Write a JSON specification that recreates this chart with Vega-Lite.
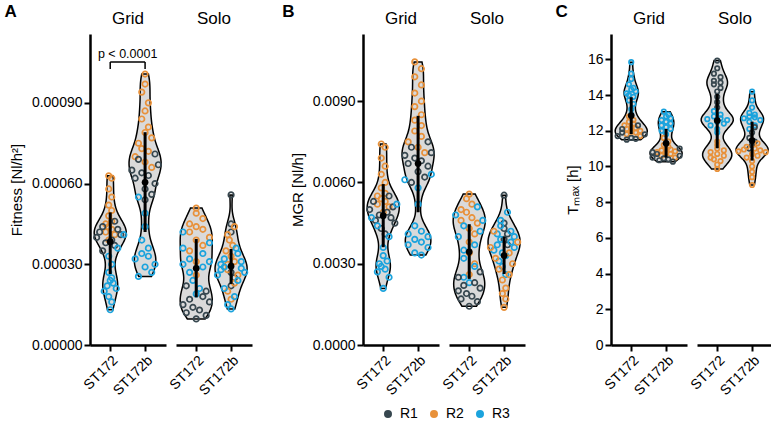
{
"$schema":"https://vega.github.io/schema/vega-lite/v6.json",
"padding":{"left":4,"top":3,"right":0,"bottom":0},
"datasets":{
"fit":[
{"g":"Grid","s":"ST172","r":"R2","v":0.000629},{"g":"Grid","s":"ST172","r":"R2","v":0.00062},{"g":"Grid","s":"ST172","r":"R2","v":0.00058},{"g":"Grid","s":"ST172","r":"R2","v":0.00055},{"g":"Grid","s":"ST172","r":"R2","v":0.00052},{"g":"Grid","s":"ST172","r":"R2","v":0.0005},{"g":"Grid","s":"ST172","r":"R2","v":0.00048},{"g":"Grid","s":"ST172","r":"R2","v":0.00046},{"g":"Grid","s":"ST172","r":"R2","v":0.00045},{"g":"Grid","s":"ST172","r":"R2","v":0.00044},{"g":"Grid","s":"ST172","r":"R2","v":0.00043},{"g":"Grid","s":"ST172","r":"R2","v":0.00042},{"g":"Grid","s":"ST172","r":"R2","v":0.00041},{"g":"Grid","s":"ST172","r":"R2","v":0.00039},
{"g":"Grid","s":"ST172","r":"R1","v":0.00046},{"g":"Grid","s":"ST172","r":"R1","v":0.00044},{"g":"Grid","s":"ST172","r":"R1","v":0.00043},{"g":"Grid","s":"ST172","r":"R1","v":0.00042},{"g":"Grid","s":"ST172","r":"R1","v":0.00041},{"g":"Grid","s":"ST172","r":"R1","v":0.0004},{"g":"Grid","s":"ST172","r":"R1","v":0.00039},{"g":"Grid","s":"ST172","r":"R1","v":0.00038},{"g":"Grid","s":"ST172","r":"R1","v":0.00037},{"g":"Grid","s":"ST172","r":"R1","v":0.00035},
{"g":"Grid","s":"ST172","r":"R3","v":0.00041},{"g":"Grid","s":"ST172","r":"R3","v":0.00036},{"g":"Grid","s":"ST172","r":"R3","v":0.00033},{"g":"Grid","s":"ST172","r":"R3","v":0.0003},{"g":"Grid","s":"ST172","r":"R3","v":0.00027},{"g":"Grid","s":"ST172","r":"R3","v":0.00025},{"g":"Grid","s":"ST172","r":"R3","v":0.00024},{"g":"Grid","s":"ST172","r":"R3","v":0.00023},{"g":"Grid","s":"ST172","r":"R3","v":0.00022},{"g":"Grid","s":"ST172","r":"R3","v":0.00021},{"g":"Grid","s":"ST172","r":"R3","v":0.0002},{"g":"Grid","s":"ST172","r":"R3","v":0.00018},{"g":"Grid","s":"ST172","r":"R3","v":0.00016},{"g":"Grid","s":"ST172","r":"R3","v":0.000131},
{"g":"Grid","s":"ST172b","r":"R2","v":0.001007},{"g":"Grid","s":"ST172b","r":"R2","v":0.00097},{"g":"Grid","s":"ST172b","r":"R2","v":0.00094},{"g":"Grid","s":"ST172b","r":"R2","v":0.0009},{"g":"Grid","s":"ST172b","r":"R2","v":0.00087},{"g":"Grid","s":"ST172b","r":"R2","v":0.00084},{"g":"Grid","s":"ST172b","r":"R2","v":0.00081},{"g":"Grid","s":"ST172b","r":"R2","v":0.00079},{"g":"Grid","s":"ST172b","r":"R2","v":0.00077},{"g":"Grid","s":"ST172b","r":"R2","v":0.00075},{"g":"Grid","s":"ST172b","r":"R2","v":0.00073},{"g":"Grid","s":"ST172b","r":"R2","v":0.00072},{"g":"Grid","s":"ST172b","r":"R2","v":0.0007},{"g":"Grid","s":"ST172b","r":"R2","v":0.00068},{"g":"Grid","s":"ST172b","r":"R2","v":0.00066},
{"g":"Grid","s":"ST172b","r":"R1","v":0.00071},{"g":"Grid","s":"ST172b","r":"R1","v":0.00069},{"g":"Grid","s":"ST172b","r":"R1","v":0.00067},{"g":"Grid","s":"ST172b","r":"R1","v":0.00065},{"g":"Grid","s":"ST172b","r":"R1","v":0.00064},{"g":"Grid","s":"ST172b","r":"R1","v":0.00063},{"g":"Grid","s":"ST172b","r":"R1","v":0.00062},{"g":"Grid","s":"ST172b","r":"R1","v":0.0006},{"g":"Grid","s":"ST172b","r":"R1","v":0.00058},{"g":"Grid","s":"ST172b","r":"R1","v":0.00056},{"g":"Grid","s":"ST172b","r":"R1","v":0.00054},
{"g":"Grid","s":"ST172b","r":"R3","v":0.00055},{"g":"Grid","s":"ST172b","r":"R3","v":0.00049},{"g":"Grid","s":"ST172b","r":"R3","v":0.00044},{"g":"Grid","s":"ST172b","r":"R3","v":0.00039},{"g":"Grid","s":"ST172b","r":"R3","v":0.00036},{"g":"Grid","s":"ST172b","r":"R3","v":0.00034},{"g":"Grid","s":"ST172b","r":"R3","v":0.00033},{"g":"Grid","s":"ST172b","r":"R3","v":0.00032},{"g":"Grid","s":"ST172b","r":"R3","v":0.0003},{"g":"Grid","s":"ST172b","r":"R3","v":0.00029},{"g":"Grid","s":"ST172b","r":"R3","v":0.00027},{"g":"Grid","s":"ST172b","r":"R3","v":0.000255},
{"g":"Solo","s":"ST172","r":"R2","v":0.000509},{"g":"Solo","s":"ST172","r":"R2","v":0.00049},{"g":"Solo","s":"ST172","r":"R2","v":0.00047},{"g":"Solo","s":"ST172","r":"R2","v":0.00045},{"g":"Solo","s":"ST172","r":"R2","v":0.00044},{"g":"Solo","s":"ST172","r":"R2","v":0.00043},{"g":"Solo","s":"ST172","r":"R2","v":0.00042},{"g":"Solo","s":"ST172","r":"R2","v":0.0004},{"g":"Solo","s":"ST172","r":"R2","v":0.00039},{"g":"Solo","s":"ST172","r":"R2","v":0.00037},{"g":"Solo","s":"ST172","r":"R2","v":0.00035},{"g":"Solo","s":"ST172","r":"R2","v":0.00031},{"g":"Solo","s":"ST172","r":"R2","v":0.00026},
{"g":"Solo","s":"ST172","r":"R3","v":0.00042},{"g":"Solo","s":"ST172","r":"R3","v":0.00038},{"g":"Solo","s":"ST172","r":"R3","v":0.00036},{"g":"Solo","s":"ST172","r":"R3","v":0.00034},{"g":"Solo","s":"ST172","r":"R3","v":0.00032},{"g":"Solo","s":"ST172","r":"R3","v":0.00031},{"g":"Solo","s":"ST172","r":"R3","v":0.0003},{"g":"Solo","s":"ST172","r":"R3","v":0.00029},{"g":"Solo","s":"ST172","r":"R3","v":0.00027},{"g":"Solo","s":"ST172","r":"R3","v":0.00024},{"g":"Solo","s":"ST172","r":"R3","v":0.00021},{"g":"Solo","s":"ST172","r":"R3","v":0.00019},
{"g":"Solo","s":"ST172","r":"R1","v":0.00022},{"g":"Solo","s":"ST172","r":"R1","v":0.0002},{"g":"Solo","s":"ST172","r":"R1","v":0.00018},{"g":"Solo","s":"ST172","r":"R1","v":0.00017},{"g":"Solo","s":"ST172","r":"R1","v":0.00016},{"g":"Solo","s":"ST172","r":"R1","v":0.00015},{"g":"Solo","s":"ST172","r":"R1","v":0.00014},{"g":"Solo","s":"ST172","r":"R1","v":0.00013},{"g":"Solo","s":"ST172","r":"R1","v":0.00012},{"g":"Solo","s":"ST172","r":"R1","v":0.00011},{"g":"Solo","s":"ST172","r":"R1","v":0.000097},
{"g":"Solo","s":"ST172b","r":"R1","v":0.000558},{"g":"Solo","s":"ST172b","r":"R1","v":0.00045},{"g":"Solo","s":"ST172b","r":"R1","v":0.00042},{"g":"Solo","s":"ST172b","r":"R1","v":0.00027},{"g":"Solo","s":"ST172b","r":"R1","v":0.00025},{"g":"Solo","s":"ST172b","r":"R1","v":0.00022},
{"g":"Solo","s":"ST172b","r":"R2","v":0.00044},{"g":"Solo","s":"ST172b","r":"R2","v":0.00041},{"g":"Solo","s":"ST172b","r":"R2","v":0.00039},{"g":"Solo","s":"ST172b","r":"R2","v":0.00037},{"g":"Solo","s":"ST172b","r":"R2","v":0.00035},{"g":"Solo","s":"ST172b","r":"R2","v":0.00033},{"g":"Solo","s":"ST172b","r":"R2","v":0.00031},{"g":"Solo","s":"ST172b","r":"R2","v":0.0003},{"g":"Solo","s":"ST172b","r":"R2","v":0.00028},{"g":"Solo","s":"ST172b","r":"R2","v":0.00026},{"g":"Solo","s":"ST172b","r":"R2","v":0.00023},{"g":"Solo","s":"ST172b","r":"R2","v":0.0002},{"g":"Solo","s":"ST172b","r":"R2","v":0.00017},
{"g":"Solo","s":"ST172b","r":"R3","v":0.00036},{"g":"Solo","s":"ST172b","r":"R3","v":0.00034},{"g":"Solo","s":"ST172b","r":"R3","v":0.00032},{"g":"Solo","s":"ST172b","r":"R3","v":0.00031},{"g":"Solo","s":"ST172b","r":"R3","v":0.0003},{"g":"Solo","s":"ST172b","r":"R3","v":0.00029},{"g":"Solo","s":"ST172b","r":"R3","v":0.000285},{"g":"Solo","s":"ST172b","r":"R3","v":0.00028},{"g":"Solo","s":"ST172b","r":"R3","v":0.00027},{"g":"Solo","s":"ST172b","r":"R3","v":0.00026},{"g":"Solo","s":"ST172b","r":"R3","v":0.00024},{"g":"Solo","s":"ST172b","r":"R3","v":0.00021},{"g":"Solo","s":"ST172b","r":"R3","v":0.00018},{"g":"Solo","s":"ST172b","r":"R3","v":0.00015},{"g":"Solo","s":"ST172b","r":"R3","v":0.000134},
{"g":"Grid","s":"ST172","v":0.000384,"lo":0.000264,"hi":0.000493},{"g":"Grid","s":"ST172b","v":0.000605,"lo":0.00042,"hi":0.000791},{"g":"Solo","s":"ST172","v":0.000285,"lo":0.000177,"hi":0.000394},{"g":"Solo","s":"ST172b","v":0.000293,"lo":0.000227,"hi":0.000357},
{"g":"Grid","s":"ST172","note":"p < 0.0001"}
],
"mgr":[
{"g":"Grid","s":"ST172","r":"R2","v":0.00742},{"g":"Grid","s":"ST172","r":"R2","v":0.0073},{"g":"Grid","s":"ST172","r":"R2","v":0.0069},{"g":"Grid","s":"ST172","r":"R2","v":0.0066},{"g":"Grid","s":"ST172","r":"R2","v":0.0063},{"g":"Grid","s":"ST172","r":"R2","v":0.006},{"g":"Grid","s":"ST172","r":"R2","v":0.0058},{"g":"Grid","s":"ST172","r":"R2","v":0.0056},{"g":"Grid","s":"ST172","r":"R2","v":0.0055},{"g":"Grid","s":"ST172","r":"R2","v":0.0054},{"g":"Grid","s":"ST172","r":"R2","v":0.0053},{"g":"Grid","s":"ST172","r":"R2","v":0.0052},{"g":"Grid","s":"ST172","r":"R2","v":0.0051},{"g":"Grid","s":"ST172","r":"R2","v":0.0049},
{"g":"Grid","s":"ST172","r":"R1","v":0.0055},{"g":"Grid","s":"ST172","r":"R1","v":0.0053},{"g":"Grid","s":"ST172","r":"R1","v":0.0051},{"g":"Grid","s":"ST172","r":"R1","v":0.005},{"g":"Grid","s":"ST172","r":"R1","v":0.0049},{"g":"Grid","s":"ST172","r":"R1","v":0.0048},{"g":"Grid","s":"ST172","r":"R1","v":0.0047},{"g":"Grid","s":"ST172","r":"R1","v":0.0046},{"g":"Grid","s":"ST172","r":"R1","v":0.0045},{"g":"Grid","s":"ST172","r":"R1","v":0.0043},{"g":"Grid","s":"ST172","r":"R1","v":0.0041},
{"g":"Grid","s":"ST172","r":"R3","v":0.0052},{"g":"Grid","s":"ST172","r":"R3","v":0.0047},{"g":"Grid","s":"ST172","r":"R3","v":0.0044},{"g":"Grid","s":"ST172","r":"R3","v":0.004},{"g":"Grid","s":"ST172","r":"R3","v":0.0036},{"g":"Grid","s":"ST172","r":"R3","v":0.0033},{"g":"Grid","s":"ST172","r":"R3","v":0.0031},{"g":"Grid","s":"ST172","r":"R3","v":0.003},{"g":"Grid","s":"ST172","r":"R3","v":0.0029},{"g":"Grid","s":"ST172","r":"R3","v":0.0028},{"g":"Grid","s":"ST172","r":"R3","v":0.0027},{"g":"Grid","s":"ST172","r":"R3","v":0.0025},{"g":"Grid","s":"ST172","r":"R3","v":0.00209},
{"g":"Grid","s":"ST172b","r":"R2","v":0.01045},{"g":"Grid","s":"ST172b","r":"R2","v":0.0102},{"g":"Grid","s":"ST172b","r":"R2","v":0.0099},{"g":"Grid","s":"ST172b","r":"R2","v":0.0096},{"g":"Grid","s":"ST172b","r":"R2","v":0.0093},{"g":"Grid","s":"ST172b","r":"R2","v":0.009},{"g":"Grid","s":"ST172b","r":"R2","v":0.0088},{"g":"Grid","s":"ST172b","r":"R2","v":0.0085},{"g":"Grid","s":"ST172b","r":"R2","v":0.0083},{"g":"Grid","s":"ST172b","r":"R2","v":0.0081},{"g":"Grid","s":"ST172b","r":"R2","v":0.0079},{"g":"Grid","s":"ST172b","r":"R2","v":0.0077},{"g":"Grid","s":"ST172b","r":"R2","v":0.0075},{"g":"Grid","s":"ST172b","r":"R2","v":0.0073},{"g":"Grid","s":"ST172b","r":"R2","v":0.0071},
{"g":"Grid","s":"ST172b","r":"R1","v":0.0075},{"g":"Grid","s":"ST172b","r":"R1","v":0.0073},{"g":"Grid","s":"ST172b","r":"R1","v":0.0071},{"g":"Grid","s":"ST172b","r":"R1","v":0.007},{"g":"Grid","s":"ST172b","r":"R1","v":0.0069},{"g":"Grid","s":"ST172b","r":"R1","v":0.0068},{"g":"Grid","s":"ST172b","r":"R1","v":0.0067},{"g":"Grid","s":"ST172b","r":"R1","v":0.0066},{"g":"Grid","s":"ST172b","r":"R1","v":0.0064},{"g":"Grid","s":"ST172b","r":"R1","v":0.0062},{"g":"Grid","s":"ST172b","r":"R1","v":0.006},
{"g":"Grid","s":"ST172b","r":"R3","v":0.0063},{"g":"Grid","s":"ST172b","r":"R3","v":0.0061},{"g":"Grid","s":"ST172b","r":"R3","v":0.0058},{"g":"Grid","s":"ST172b","r":"R3","v":0.0052},{"g":"Grid","s":"ST172b","r":"R3","v":0.0044},{"g":"Grid","s":"ST172b","r":"R3","v":0.0042},{"g":"Grid","s":"ST172b","r":"R3","v":0.0041},{"g":"Grid","s":"ST172b","r":"R3","v":0.004},{"g":"Grid","s":"ST172b","r":"R3","v":0.0039},{"g":"Grid","s":"ST172b","r":"R3","v":0.0038},{"g":"Grid","s":"ST172b","r":"R3","v":0.0037},{"g":"Grid","s":"ST172b","r":"R3","v":0.0036},{"g":"Grid","s":"ST172b","r":"R3","v":0.0034},{"g":"Grid","s":"ST172b","r":"R3","v":0.00332},
{"g":"Solo","s":"ST172","r":"R2","v":0.00557},{"g":"Solo","s":"ST172","r":"R2","v":0.0054},{"g":"Solo","s":"ST172","r":"R2","v":0.0052},{"g":"Solo","s":"ST172","r":"R2","v":0.005},{"g":"Solo","s":"ST172","r":"R2","v":0.0049},{"g":"Solo","s":"ST172","r":"R2","v":0.0047},{"g":"Solo","s":"ST172","r":"R2","v":0.0046},{"g":"Solo","s":"ST172","r":"R2","v":0.0045},{"g":"Solo","s":"ST172","r":"R2","v":0.0043},{"g":"Solo","s":"ST172","r":"R2","v":0.0041},{"g":"Solo","s":"ST172","r":"R2","v":0.0038},{"g":"Solo","s":"ST172","r":"R2","v":0.0034},{"g":"Solo","s":"ST172","r":"R2","v":0.003},{"g":"Solo","s":"ST172","r":"R2","v":0.0026},
{"g":"Solo","s":"ST172","r":"R3","v":0.0051},{"g":"Solo","s":"ST172","r":"R3","v":0.0048},{"g":"Solo","s":"ST172","r":"R3","v":0.0046},{"g":"Solo","s":"ST172","r":"R3","v":0.0044},{"g":"Solo","s":"ST172","r":"R3","v":0.0042},{"g":"Solo","s":"ST172","r":"R3","v":0.004},{"g":"Solo","s":"ST172","r":"R3","v":0.0037},{"g":"Solo","s":"ST172","r":"R3","v":0.0035},{"g":"Solo","s":"ST172","r":"R3","v":0.0032},{"g":"Solo","s":"ST172","r":"R3","v":0.0029},{"g":"Solo","s":"ST172","r":"R3","v":0.0025},{"g":"Solo","s":"ST172","r":"R3","v":0.0023},
{"g":"Solo","s":"ST172","r":"R1","v":0.0027},{"g":"Solo","s":"ST172","r":"R1","v":0.0025},{"g":"Solo","s":"ST172","r":"R1","v":0.0023},{"g":"Solo","s":"ST172","r":"R1","v":0.0022},{"g":"Solo","s":"ST172","r":"R1","v":0.0021},{"g":"Solo","s":"ST172","r":"R1","v":0.002},{"g":"Solo","s":"ST172","r":"R1","v":0.0019},{"g":"Solo","s":"ST172","r":"R1","v":0.0018},{"g":"Solo","s":"ST172","r":"R1","v":0.0017},{"g":"Solo","s":"ST172","r":"R1","v":0.0016},{"g":"Solo","s":"ST172","r":"R1","v":0.00143},
{"g":"Solo","s":"ST172b","r":"R1","v":0.00553},{"g":"Solo","s":"ST172b","r":"R1","v":0.0045},{"g":"Solo","s":"ST172b","r":"R1","v":0.0043},{"g":"Solo","s":"ST172b","r":"R1","v":0.0041},{"g":"Solo","s":"ST172b","r":"R1","v":0.0039},{"g":"Solo","s":"ST172b","r":"R1","v":0.0037},
{"g":"Solo","s":"ST172b","r":"R3","v":0.0049},{"g":"Solo","s":"ST172b","r":"R3","v":0.0046},{"g":"Solo","s":"ST172b","r":"R3","v":0.0044},{"g":"Solo","s":"ST172b","r":"R3","v":0.0042},{"g":"Solo","s":"ST172b","r":"R3","v":0.0041},{"g":"Solo","s":"ST172b","r":"R3","v":0.004},{"g":"Solo","s":"ST172b","r":"R3","v":0.0039},{"g":"Solo","s":"ST172b","r":"R3","v":0.0038},{"g":"Solo","s":"ST172b","r":"R3","v":0.0037},{"g":"Solo","s":"ST172b","r":"R3","v":0.0036},{"g":"Solo","s":"ST172b","r":"R3","v":0.0035},{"g":"Solo","s":"ST172b","r":"R3","v":0.0034},{"g":"Solo","s":"ST172b","r":"R3","v":0.0033},{"g":"Solo","s":"ST172b","r":"R3","v":0.0031},{"g":"Solo","s":"ST172b","r":"R3","v":0.0029},{"g":"Solo","s":"ST172b","r":"R3","v":0.0026},
{"g":"Solo","s":"ST172b","r":"R2","v":0.0042},{"g":"Solo","s":"ST172b","r":"R2","v":0.0038},{"g":"Solo","s":"ST172b","r":"R2","v":0.0036},{"g":"Solo","s":"ST172b","r":"R2","v":0.0034},{"g":"Solo","s":"ST172b","r":"R2","v":0.0032},{"g":"Solo","s":"ST172b","r":"R2","v":0.003},{"g":"Solo","s":"ST172b","r":"R2","v":0.0028},{"g":"Solo","s":"ST172b","r":"R2","v":0.0026},{"g":"Solo","s":"ST172b","r":"R2","v":0.0024},{"g":"Solo","s":"ST172b","r":"R2","v":0.0021},{"g":"Solo","s":"ST172b","r":"R2","v":0.0019},{"g":"Solo","s":"ST172b","r":"R2","v":0.0017},{"g":"Solo","s":"ST172b","r":"R2","v":0.00139},
{"g":"Grid","s":"ST172","v":0.00477,"lo":0.00361,"hi":0.00594},{"g":"Grid","s":"ST172b","v":0.0067,"lo":0.0049,"hi":0.00846},{"g":"Solo","s":"ST172","v":0.00344,"lo":0.00244,"hi":0.00446},{"g":"Solo","s":"ST172b","v":0.0033,"lo":0.00262,"hi":0.00399}
],
"tmax":[
{"g":"Grid","s":"ST172","r":"R3","v":15.84},{"g":"Grid","s":"ST172","r":"R3","v":15.2},{"g":"Grid","s":"ST172","r":"R3","v":14.9},{"g":"Grid","s":"ST172","r":"R3","v":14.6},{"g":"Grid","s":"ST172","r":"R3","v":14.4},{"g":"Grid","s":"ST172","r":"R3","v":14.3},{"g":"Grid","s":"ST172","r":"R3","v":14.2},{"g":"Grid","s":"ST172","r":"R3","v":14.1},{"g":"Grid","s":"ST172","r":"R3","v":14.0},{"g":"Grid","s":"ST172","r":"R3","v":13.9},{"g":"Grid","s":"ST172","r":"R3","v":13.7},{"g":"Grid","s":"ST172","r":"R3","v":13.5},{"g":"Grid","s":"ST172","r":"R3","v":13.2},{"g":"Grid","s":"ST172","r":"R3","v":12.9},
{"g":"Grid","s":"ST172","r":"R2","v":12.8},{"g":"Grid","s":"ST172","r":"R2","v":12.6},{"g":"Grid","s":"ST172","r":"R2","v":12.5},{"g":"Grid","s":"ST172","r":"R2","v":12.4},{"g":"Grid","s":"ST172","r":"R2","v":12.3},{"g":"Grid","s":"ST172","r":"R2","v":12.2},{"g":"Grid","s":"ST172","r":"R2","v":12.15},{"g":"Grid","s":"ST172","r":"R2","v":12.1},{"g":"Grid","s":"ST172","r":"R2","v":12.0},{"g":"Grid","s":"ST172","r":"R2","v":11.95},{"g":"Grid","s":"ST172","r":"R2","v":11.9},{"g":"Grid","s":"ST172","r":"R2","v":11.8},{"g":"Grid","s":"ST172","r":"R2","v":11.7},
{"g":"Grid","s":"ST172","r":"R1","v":12.3},{"g":"Grid","s":"ST172","r":"R1","v":12.1},{"g":"Grid","s":"ST172","r":"R1","v":11.9},{"g":"Grid","s":"ST172","r":"R1","v":11.8},{"g":"Grid","s":"ST172","r":"R1","v":11.7},{"g":"Grid","s":"ST172","r":"R1","v":11.6},{"g":"Grid","s":"ST172","r":"R1","v":11.55},{"g":"Grid","s":"ST172","r":"R1","v":11.5},
{"g":"Grid","s":"ST172b","r":"R3","v":13.07},{"g":"Grid","s":"ST172b","r":"R3","v":12.9},{"g":"Grid","s":"ST172b","r":"R3","v":12.8},{"g":"Grid","s":"ST172b","r":"R3","v":12.7},{"g":"Grid","s":"ST172b","r":"R3","v":12.6},{"g":"Grid","s":"ST172b","r":"R3","v":12.5},{"g":"Grid","s":"ST172b","r":"R3","v":12.4},{"g":"Grid","s":"ST172b","r":"R3","v":12.3},{"g":"Grid","s":"ST172b","r":"R3","v":12.2},{"g":"Grid","s":"ST172b","r":"R3","v":12.1},{"g":"Grid","s":"ST172b","r":"R3","v":12.0},{"g":"Grid","s":"ST172b","r":"R3","v":11.8},
{"g":"Grid","s":"ST172b","r":"R2","v":11.6},{"g":"Grid","s":"ST172b","r":"R2","v":11.4},{"g":"Grid","s":"ST172b","r":"R2","v":11.2},{"g":"Grid","s":"ST172b","r":"R2","v":11.1},{"g":"Grid","s":"ST172b","r":"R2","v":11.0},{"g":"Grid","s":"ST172b","r":"R2","v":10.95},{"g":"Grid","s":"ST172b","r":"R2","v":10.9},{"g":"Grid","s":"ST172b","r":"R2","v":10.85},{"g":"Grid","s":"ST172b","r":"R2","v":10.8},{"g":"Grid","s":"ST172b","r":"R2","v":10.75},{"g":"Grid","s":"ST172b","r":"R2","v":10.7},{"g":"Grid","s":"ST172b","r":"R2","v":10.6},{"g":"Grid","s":"ST172b","r":"R2","v":10.5},
{"g":"Grid","s":"ST172b","r":"R1","v":11.0},{"g":"Grid","s":"ST172b","r":"R1","v":10.8},{"g":"Grid","s":"ST172b","r":"R1","v":10.7},{"g":"Grid","s":"ST172b","r":"R1","v":10.6},{"g":"Grid","s":"ST172b","r":"R1","v":10.5},{"g":"Grid","s":"ST172b","r":"R1","v":10.45},{"g":"Grid","s":"ST172b","r":"R1","v":10.4},{"g":"Grid","s":"ST172b","r":"R1","v":10.35},{"g":"Grid","s":"ST172b","r":"R1","v":10.27},
{"g":"Solo","s":"ST172","r":"R1","v":15.93},{"g":"Solo","s":"ST172","r":"R1","v":15.5},{"g":"Solo","s":"ST172","r":"R1","v":15.2},{"g":"Solo","s":"ST172","r":"R1","v":15.0},{"g":"Solo","s":"ST172","r":"R1","v":14.8},{"g":"Solo","s":"ST172","r":"R1","v":14.7},{"g":"Solo","s":"ST172","r":"R1","v":14.6},{"g":"Solo","s":"ST172","r":"R1","v":14.4},{"g":"Solo","s":"ST172","r":"R1","v":14.2},{"g":"Solo","s":"ST172","r":"R1","v":13.9},{"g":"Solo","s":"ST172","r":"R1","v":13.6},{"g":"Solo","s":"ST172","r":"R1","v":13.3},
{"g":"Solo","s":"ST172","r":"R3","v":13.1},{"g":"Solo","s":"ST172","r":"R3","v":12.9},{"g":"Solo","s":"ST172","r":"R3","v":12.8},{"g":"Solo","s":"ST172","r":"R3","v":12.7},{"g":"Solo","s":"ST172","r":"R3","v":12.65},{"g":"Solo","s":"ST172","r":"R3","v":12.6},{"g":"Solo","s":"ST172","r":"R3","v":12.5},{"g":"Solo","s":"ST172","r":"R3","v":12.4},{"g":"Solo","s":"ST172","r":"R3","v":12.3},{"g":"Solo","s":"ST172","r":"R3","v":12.1},{"g":"Solo","s":"ST172","r":"R3","v":11.9},
{"g":"Solo","s":"ST172","r":"R2","v":11.4},{"g":"Solo","s":"ST172","r":"R2","v":11.2},{"g":"Solo","s":"ST172","r":"R2","v":11.0},{"g":"Solo","s":"ST172","r":"R2","v":10.9},{"g":"Solo","s":"ST172","r":"R2","v":10.8},{"g":"Solo","s":"ST172","r":"R2","v":10.7},{"g":"Solo","s":"ST172","r":"R2","v":10.6},{"g":"Solo","s":"ST172","r":"R2","v":10.5},{"g":"Solo","s":"ST172","r":"R2","v":10.4},{"g":"Solo","s":"ST172","r":"R2","v":10.3},{"g":"Solo","s":"ST172","r":"R2","v":10.1},{"g":"Solo","s":"ST172","r":"R2","v":9.86},
{"g":"Solo","s":"ST172b","r":"R3","v":14.19},{"g":"Solo","s":"ST172b","r":"R3","v":13.7},{"g":"Solo","s":"ST172b","r":"R3","v":13.3},{"g":"Solo","s":"ST172b","r":"R3","v":13.0},{"g":"Solo","s":"ST172b","r":"R3","v":12.9},{"g":"Solo","s":"ST172b","r":"R3","v":12.8},{"g":"Solo","s":"ST172b","r":"R3","v":12.75},{"g":"Solo","s":"ST172b","r":"R3","v":12.7},{"g":"Solo","s":"ST172b","r":"R3","v":12.6},{"g":"Solo","s":"ST172b","r":"R3","v":12.5},{"g":"Solo","s":"ST172b","r":"R3","v":12.3},{"g":"Solo","s":"ST172b","r":"R3","v":12.1},
{"g":"Solo","s":"ST172b","r":"R1","v":12.2},{"g":"Solo","s":"ST172b","r":"R1","v":11.9},{"g":"Solo","s":"ST172b","r":"R1","v":11.6},{"g":"Solo","s":"ST172b","r":"R1","v":11.4},{"g":"Solo","s":"ST172b","r":"R1","v":11.2},{"g":"Solo","s":"ST172b","r":"R1","v":11.0},
{"g":"Solo","s":"ST172b","r":"R2","v":11.3},{"g":"Solo","s":"ST172b","r":"R2","v":11.1},{"g":"Solo","s":"ST172b","r":"R2","v":11.0},{"g":"Solo","s":"ST172b","r":"R2","v":10.95},{"g":"Solo","s":"ST172b","r":"R2","v":10.9},{"g":"Solo","s":"ST172b","r":"R2","v":10.85},{"g":"Solo","s":"ST172b","r":"R2","v":10.8},{"g":"Solo","s":"ST172b","r":"R2","v":10.7},{"g":"Solo","s":"ST172b","r":"R2","v":10.6},{"g":"Solo","s":"ST172b","r":"R2","v":10.5},{"g":"Solo","s":"ST172b","r":"R2","v":10.3},{"g":"Solo","s":"ST172b","r":"R2","v":10.0},{"g":"Solo","s":"ST172b","r":"R2","v":9.7},{"g":"Solo","s":"ST172b","r":"R2","v":9.4},{"g":"Solo","s":"ST172b","r":"R2","v":8.96},
{"g":"Grid","s":"ST172","v":12.85,"lo":11.82,"hi":13.88},{"g":"Grid","s":"ST172b","v":11.3,"lo":10.5,"hi":12.1},{"g":"Solo","s":"ST172","v":12.57,"lo":11.02,"hi":14.06},{"g":"Solo","s":"ST172b","v":11.45,"lo":10.33,"hi":12.51}
]
},
"hconcat":[
{
"data":{"name":"fit"},
"transform":[{"calculate":"datum.s == 'ST172' ? 0 : 1","as":"idx"}],
"title":{"text":"A","anchor":"start","frame":"bounds","fontSize":17,"fontWeight":"bold","offset":-11,"dx":-5},
"facet":{"column":{"field":"g","type":"nominal","title":null}},
"spacing":10,
"spec":{
"width":76,"height":311,
"encoding":{
"x":{"field":"x","type":"quantitative","title":null,"scale":{"domain":[-0.58,1.6],"nice":false,"zero":false},"axis":{"values":[0,1],"labelExpr":"datum.value == 0 ? 'ST172' : 'ST172b'","labelAngle":-45,"labelAlign":"right","labelBaseline":"top"}},
"y":{"field":"v","type":"quantitative","title":"Fitness [Nl/h²]","scale":{"domain":[0,0.001156],"nice":false},"axis":{"values":[0,0.0003,0.0006,0.0009],"format":".5f"}}
},
"layer":[
{"transform":[{"filter":"isValid(datum.r)"},{"density":"v","groupby":["g","s","idx"],"bandwidth":0.000036,"resolve":"independent","steps":80,"as":["v","dens"]},{"joinaggregate":[{"op":"max","field":"dens","as":"dm"}],"groupby":["g","s"]},{"calculate":"datum.idx - 0.46*datum.dens/datum.dm","as":"x"},{"calculate":"datum.idx + 0.46*datum.dens/datum.dm","as":"x2"}],
"mark":{"type":"area","orient":"horizontal","interpolate":"monotone","fill":"#dadada","stroke":"black","strokeWidth":1.5},
"encoding":{"x2":{"field":"x2"},"detail":{"field":"s"}}},
{"transform":[{"filter":"isValid(datum.r)"},{"bin":{"step":0.00005},"field":"v","as":"vb"},{"window":[{"op":"row_number","as":"rk"}],"groupby":["g","s","vb"]},{"joinaggregate":[{"op":"count","as":"cnt"}],"groupby":["g","s","vb"]},{"joinaggregate":[{"op":"max","field":"cnt","as":"mc"}],"groupby":["g","s"]},{"calculate":"datum.idx + min(0.19, 0.78/max(datum.mc - 1, 1)) * ((datum.rk % 2 == 0 ? 1 : -1) * floor(datum.rk / 2) - (datum.cnt % 2 == 0 ? 0.5 : 0))","as":"x"}],
"mark":{"type":"point","filled":false,"strokeWidth":1.7,"size":30,"opacity":1},
"encoding":{"color":{"field":"r","type":"nominal","scale":{"domain":["R1","R2","R3"],"range":["#37474F","#E8913A","#1BA3DD"]},"legend":{"orient":"none","legendX":291,"legendY":373,"direction":"horizontal","title":null,"symbolType":"circle","symbolSize":16,"symbolStrokeWidth":4,"labelFontSize":14,"columnPadding":6,"labelOffset":5,"padding":0}}}},
{"transform":[{"filter":"isValid(datum.lo)"},{"calculate":"datum.idx","as":"x"}],
"mark":{"type":"rule","strokeWidth":3,"color":"black"},
"encoding":{"y":{"field":"lo","type":"quantitative","title":"Fitness [Nl/h²]"},"y2":{"field":"hi"}}},
{"transform":[{"filter":"isValid(datum.lo)"},{"calculate":"datum.idx","as":"x"}],
"mark":{"type":"circle","color":"black","size":45,"opacity":1}},
{"transform":[{"filter":"isValid(datum.lo) && datum.idx == 0"}],
"mark":{"type":"rule","strokeWidth":2,"color":"black"},
"encoding":{"x":{"datum":-0.58},"y":{"datum":0},"y2":{"datum":0.001156}}},
{"transform":[{"filter":"isValid(datum.note)"},{"calculate":"0","as":"x"},{"calculate":"1","as":"x2"},{"calculate":"0.001052","as":"v"}],
"mark":{"type":"rule","strokeWidth":1.5,"color":"black"},
"encoding":{"x2":{"field":"x2"}}},
{"transform":[{"filter":"isValid(datum.note)"},{"calculate":"0","as":"x"},{"calculate":"0.001052","as":"v"},{"calculate":"0.001026","as":"lo"}],
"mark":{"type":"rule","strokeWidth":1.5,"color":"black"},
"encoding":{"y2":{"field":"lo"}}},
{"transform":[{"filter":"isValid(datum.note)"},{"calculate":"1","as":"x"},{"calculate":"0.001052","as":"v"},{"calculate":"0.001026","as":"lo"}],
"mark":{"type":"rule","strokeWidth":1.5,"color":"black"},
"encoding":{"y2":{"field":"lo"}}},
{"transform":[{"filter":"isValid(datum.note)"},{"calculate":"0.5","as":"x"},{"calculate":"0.001067","as":"v"}],
"mark":{"type":"text","fontSize":12.5,"baseline":"alphabetic","align":"center","color":"black"},
"encoding":{"text":{"field":"note"}}}
]
}
},
{
"data":{"name":"mgr"},
"transform":[{"calculate":"datum.s == 'ST172' ? 0 : 1","as":"idx"}],
"title":{"text":"B","anchor":"start","frame":"bounds","fontSize":17,"fontWeight":"bold","offset":-11,"dx":-8},
"facet":{"column":{"field":"g","type":"nominal","title":null}},
"spacing":10,
"spec":{
"width":76,"height":311,
"encoding":{
"x":{"field":"x","type":"quantitative","title":null,"scale":{"domain":[-0.58,1.6],"nice":false,"zero":false},"axis":{"values":[0,1],"labelExpr":"datum.value == 0 ? 'ST172' : 'ST172b'","labelAngle":-45,"labelAlign":"right","labelBaseline":"top"}},
"y":{"field":"v","type":"quantitative","title":"MGR [Nl/h]","scale":{"domain":[0,0.01148],"nice":false},"axis":{"values":[0,0.003,0.006,0.009],"format":".4f"}}
},
"layer":[
{"transform":[{"filter":"isValid(datum.r)"},{"density":"v","groupby":["g","s","idx"],"bandwidth":0.00036,"resolve":"independent","steps":80,"as":["v","dens"]},{"joinaggregate":[{"op":"max","field":"dens","as":"dm"}],"groupby":["g","s"]},{"calculate":"datum.idx - 0.46*datum.dens/datum.dm","as":"x"},{"calculate":"datum.idx + 0.46*datum.dens/datum.dm","as":"x2"}],
"mark":{"type":"area","orient":"horizontal","interpolate":"monotone","fill":"#dadada","stroke":"black","strokeWidth":1.5},
"encoding":{"x2":{"field":"x2"},"detail":{"field":"s"}}},
{"transform":[{"filter":"isValid(datum.r)"},{"bin":{"step":0.0005},"field":"v","as":"vb"},{"window":[{"op":"row_number","as":"rk"}],"groupby":["g","s","vb"]},{"joinaggregate":[{"op":"count","as":"cnt"}],"groupby":["g","s","vb"]},{"joinaggregate":[{"op":"max","field":"cnt","as":"mc"}],"groupby":["g","s"]},{"calculate":"datum.idx + min(0.19, 0.78/max(datum.mc - 1, 1)) * ((datum.rk % 2 == 0 ? 1 : -1) * floor(datum.rk / 2) - (datum.cnt % 2 == 0 ? 0.5 : 0))","as":"x"}],
"mark":{"type":"point","filled":false,"strokeWidth":1.7,"size":30,"opacity":1},
"encoding":{"color":{"field":"r","type":"nominal","scale":{"domain":["R1","R2","R3"],"range":["#37474F","#E8913A","#1BA3DD"]},"legend":{"orient":"none","legendX":291,"legendY":373,"direction":"horizontal","title":null,"symbolType":"circle","symbolSize":16,"symbolStrokeWidth":4,"labelFontSize":14,"columnPadding":6,"labelOffset":5,"padding":0}}}},
{"transform":[{"filter":"isValid(datum.lo)"},{"calculate":"datum.idx","as":"x"}],
"mark":{"type":"rule","strokeWidth":3,"color":"black"},
"encoding":{"y":{"field":"lo","type":"quantitative","title":"MGR [Nl/h]"},"y2":{"field":"hi"}}},
{"transform":[{"filter":"isValid(datum.lo)"},{"calculate":"datum.idx","as":"x"}],
"mark":{"type":"circle","color":"black","size":45,"opacity":1}},
{"transform":[{"filter":"isValid(datum.lo) && datum.idx == 0"}],
"mark":{"type":"rule","strokeWidth":2,"color":"black"},
"encoding":{"x":{"datum":-0.58},"y":{"datum":0},"y2":{"datum":0.01148}}}
]
}
},
{
"data":{"name":"tmax"},
"transform":[{"calculate":"datum.s == 'ST172' ? 0 : 1","as":"idx"}],
"title":{"text":"C","anchor":"start","frame":"bounds","fontSize":17,"fontWeight":"bold","offset":-11,"dx":-10},
"facet":{"column":{"field":"g","type":"nominal","title":null}},
"spacing":10,
"spec":{
"width":76,"height":311,
"encoding":{
"x":{"field":"x","type":"quantitative","title":null,"scale":{"domain":[-0.58,1.6],"nice":false,"zero":false},"axis":{"values":[0,1],"labelExpr":"datum.value == 0 ? 'ST172' : 'ST172b'","labelAngle":-45,"labelAlign":"right","labelBaseline":"top"}},
"y":{"field":"v","type":"quantitative","title":"Tₘₐₓ [h]","scale":{"domain":[0,17.42],"nice":false},"axis":{"values":[0,2,4,6,8,10,12,14,16],"format":"d"}}
},
"layer":[
{"transform":[{"filter":"isValid(datum.r)"},{"density":"v","groupby":["g","s","idx"],"bandwidth":0.33,"resolve":"independent","steps":80,"as":["v","dens"]},{"joinaggregate":[{"op":"max","field":"dens","as":"dm"}],"groupby":["g","s"]},{"calculate":"datum.idx - 0.46*datum.dens/datum.dm","as":"x"},{"calculate":"datum.idx + 0.46*datum.dens/datum.dm","as":"x2"}],
"mark":{"type":"area","orient":"horizontal","interpolate":"monotone","fill":"#dadada","stroke":"black","strokeWidth":1.5},
"encoding":{"x2":{"field":"x2"},"detail":{"field":"s"}}},
{"transform":[{"filter":"isValid(datum.r)"},{"bin":{"step":0.3},"field":"v","as":"vb"},{"window":[{"op":"row_number","as":"rk"}],"groupby":["g","s","vb"]},{"joinaggregate":[{"op":"count","as":"cnt"}],"groupby":["g","s","vb"]},{"joinaggregate":[{"op":"max","field":"cnt","as":"mc"}],"groupby":["g","s"]},{"calculate":"datum.idx + min(0.19, 0.78/max(datum.mc - 1, 1)) * ((datum.rk % 2 == 0 ? 1 : -1) * floor(datum.rk / 2) - (datum.cnt % 2 == 0 ? 0.5 : 0))","as":"x"}],
"mark":{"type":"point","filled":false,"strokeWidth":1.7,"size":20,"opacity":1},
"encoding":{"color":{"field":"r","type":"nominal","scale":{"domain":["R1","R2","R3"],"range":["#37474F","#E8913A","#1BA3DD"]},"legend":{"orient":"none","legendX":291,"legendY":373,"direction":"horizontal","title":null,"symbolType":"circle","symbolSize":16,"symbolStrokeWidth":4,"labelFontSize":14,"columnPadding":6,"labelOffset":5,"padding":0}}}},
{"transform":[{"filter":"isValid(datum.lo)"},{"calculate":"datum.idx","as":"x"}],
"mark":{"type":"rule","strokeWidth":3,"color":"black"},
"encoding":{"y":{"field":"lo","type":"quantitative","title":"Tₘₐₓ [h]"},"y2":{"field":"hi"}}},
{"transform":[{"filter":"isValid(datum.lo)"},{"calculate":"datum.idx","as":"x"}],
"mark":{"type":"circle","color":"black","size":45,"opacity":1}},
{"transform":[{"filter":"isValid(datum.lo) && datum.idx == 0"}],
"mark":{"type":"rule","strokeWidth":2,"color":"black"},
"encoding":{"x":{"datum":-0.58},"y":{"datum":0},"y2":{"datum":17.42}}}
]
}
}
],
"spacing":30,
"resolve":{"scale":{"color":"shared"},"legend":{"color":"shared"}},
"config":{
"font":"Liberation Sans",
"view":{"stroke":null},
"axis":{"grid":false,"domainColor":"black","domainWidth":2.5,"tickColor":"black","tickWidth":2,"tickSize":6,"labelColor":"black","labelFontSize":14,"labelFont":"Liberation Sans","titleFont":"Liberation Sans","titleFontSize":15,"titleFontWeight":"normal","titleColor":"black","labelPadding":2},
"axisY":{"titlePadding":7},
"header":{"labelFont":"Liberation Sans","labelFontSize":17,"labelColor":"black","labelPadding":6},
"title":{"font":"Liberation Sans","color":"black"},
"legend":{"labelFont":"Liberation Sans","labelColor":"black"}
}
}
